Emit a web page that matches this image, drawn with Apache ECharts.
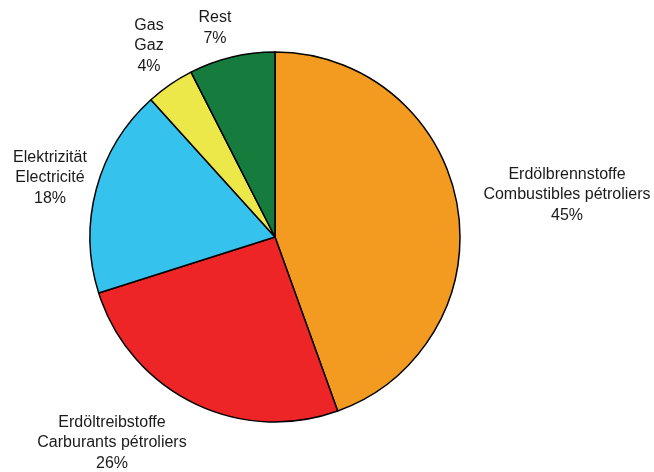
<!DOCTYPE html>
<html>
<head>
<meta charset="utf-8">
<script src="https://cdn.jsdelivr.net/npm/echarts@6/dist/echarts.min.js"></script>
<style>html,body{margin:0;padding:0;background:#fff;}#c{width:654px;height:472px;}</style>
</head>
<body>
<div id="c"></div>
<script>
const categories = ['Erdölbrennstoffe\nCombustibles pétroliers', 'Erdöltreibstoffe\nCarburants pétroliers', 'Elektrizität\nElectricité', 'Gas\nGaz', 'Rest'];
const values = [44.5, 25.6, 18.2, 4.2, 7.5];
const percentLabels = ['45%', '26%', '18%', '4%', '7%'];
const colors = ['#F39A21', '#EE2527', '#35C3EE', '#EDE84A', '#157C3E'];

const labelPos = [[567, 195], [112, 443], [50, 178], [149, 46], [215, 28]];

const chart = echarts.init(document.getElementById('c'), null, {renderer: 'canvas'});
chart.setOption({
  backgroundColor: '#ffffff',
  animation: false,
  series: [{
    type: 'pie',
    center: [275, 237],
    radius: [0, 185],
    startAngle: 90,
    clockwise: true,
    data: categories.map((n, i) => ({name: n, value: values[i], itemStyle: {color: colors[i]}})),
    itemStyle: {borderColor: '#000', borderWidth: 1.5},
    label: {
      show: true,
      formatter: p => p.name + '\n' + percentLabels[p.dataIndex],
      fontFamily: 'Liberation Sans, Arial, sans-serif',
      fontSize: 16,
      lineHeight: 20.5,
      color: '#1a1a1a',
      align: 'center',
      overflow: 'none',
      width: 300
    },
    labelLine: {show: false},
    labelLayout: function (params) {
      const p = labelPos[params.dataIndex];
      return {x: p[0], y: p[1], align: 'center', verticalAlign: 'middle'};
    },
    emphasis: {disabled: true}
  }]
});
</script>
</body>
</html>
